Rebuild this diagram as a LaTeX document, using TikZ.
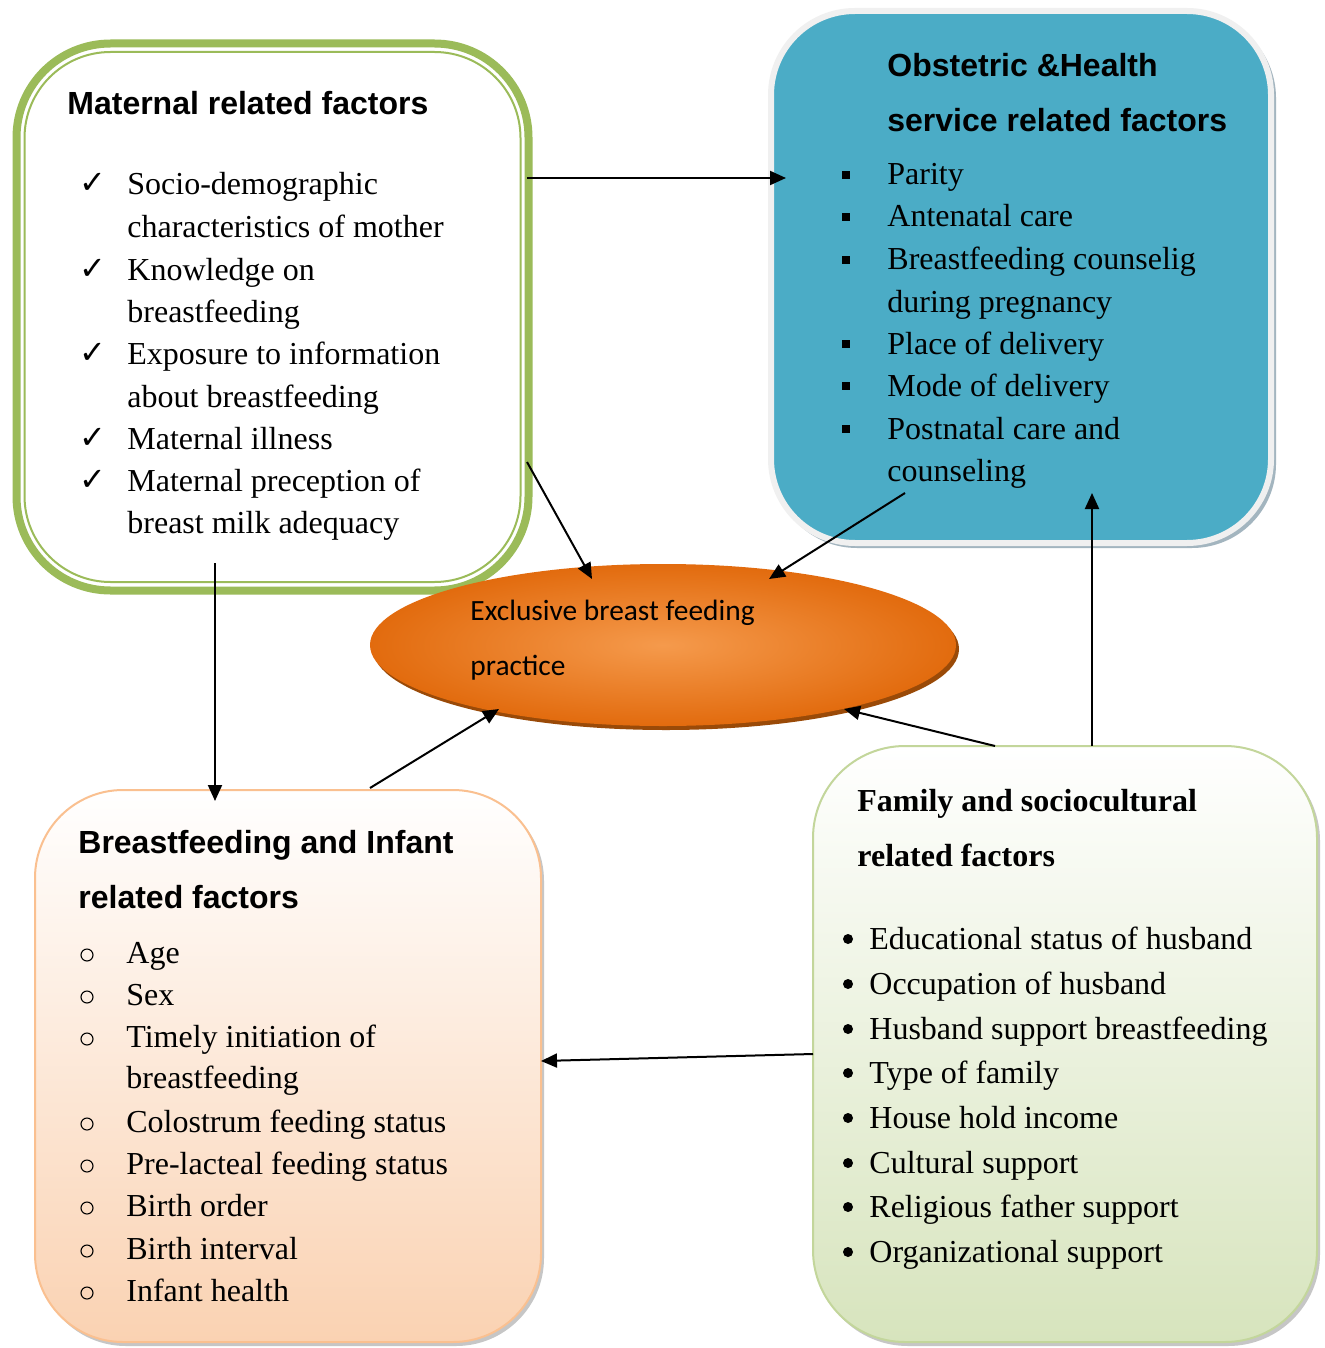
\documentclass[tikz,border=0pt]{standalone}
\usepackage{fontspec}
\setmainfont{Liberation Serif}
\newfontfamily\hsans{Liberation Sans}
\newfontfamily\calib{Carlito}
\newfontfamily\djv{DejaVu Sans}
\usetikzlibrary{shapes.geometric,arrows.meta}
\definecolor{matgreen}{HTML}{9BBB59}
\definecolor{obsblue}{HTML}{4BACC6}
\definecolor{obsrim}{HTML}{F0F0F0}
\definecolor{obsshadow}{HTML}{A3B5BF}
\definecolor{bfrim}{HTML}{FAC090}
\definecolor{bfbot}{HTML}{FAD2B2}
\definecolor{famrim}{HTML}{C3D69B}
\definecolor{fambot}{HTML}{D7E4BD}
\definecolor{ellin}{HTML}{F59A4C}
\definecolor{ellout}{HTML}{E26B0E}
\definecolor{ellshadow}{HTML}{9A4A08}
\begin{document}
\begin{tikzpicture}[x=0.5pt,y=-0.5pt,
  boxbase/.style={rectangle, inner sep=0pt, outer sep=0pt},
  matbox/.style={boxbase, draw=matgreen, line width=4pt, rounded corners=47pt},
  obsbox/.style={boxbase, draw=obsrim, fill=obsblue, line width=3pt, rounded corners=42pt},
  bfbox/.style={boxbase, draw=bfrim, line width=1pt, top color=white, bottom color=bfbot, rounded corners=44pt},
  fambox/.style={boxbase, draw=famrim, line width=1pt, top color=white, bottom color=fambot, rounded corners=46pt},
  ttl/.style={font=\hsans\bfseries\fontsize{16pt}{19pt}\selectfont, anchor=base west, inner sep=0pt},
  ftl/.style={font=\bfseries\fontsize{16pt}{19pt}\selectfont, anchor=base west, inner sep=0pt},
  bod/.style={font=\fontsize{16pt}{19pt}\selectfont, anchor=base west, inner sep=0pt},
  elltxt/.style={font=\calib\fontsize{14.7pt}{17pt}\selectfont, anchor=base west, inner sep=0pt},
  chk/.style={font=\djv\fontsize{16pt}{19pt}\selectfont, anchor=base west, inner sep=0pt},
  sqb/.style={rectangle, fill=black, minimum size=4.2pt, inner sep=0pt},
  cib/.style={circle, draw=black, line width=0.55pt, minimum size=6pt, inner sep=0pt},
  dtb/.style={circle, fill=black, minimum size=5pt, inner sep=0pt},
  arr/.style={line width=1pt, -{Triangle[length=8pt,width=7pt]}}
]
\useasboundingbox (0,0) rectangle (1325,1348);
\fill[white] (0,0) rectangle (1325,1348);

% ---------- boxes ----------
\node[matbox, minimum width=256pt, minimum height=273.5pt] (mat) at (272.5,317) {};
\draw[matgreen, line width=1pt, rounded corners=43pt] (24.5,52) rectangle (520.5,582);

\fill[obsshadow, rounded corners=42pt] (773,14) rectangle (1276,548);
\node[obsbox, minimum width=250pt, minimum height=266pt] (obs) at (1021,277) {};

\fill[gray!45, rounded corners=44pt] (38,793) rectangle (544,1346);
\node[bfbox, minimum width=253pt, minimum height=276pt] (bf) at (288,1066) {};

\fill[gray!45, rounded corners=46pt] (816,749) rectangle (1320,1346);
\node[fambox, minimum width=252pt, minimum height=298pt] (fam) at (1065,1044) {};

% ---------- ellipse ----------
\fill[ellshadow] (666,649) ellipse [x radius=293, y radius=81];
\node[ellipse, minimum width=293pt, minimum height=81pt, inner sep=0pt,
      inner color=ellin, outer color=ellout] (ell) at (663,645) {};

% ---------- arrow ends ----------
\coordinate (a1s) at (527,178);  \coordinate (a1e) at (786,178);
\coordinate (a2s) at (527,462);  \coordinate (a2e) at (592,579);
\coordinate (a3s) at (905,493);  \coordinate (a3e) at (769,579);
\coordinate (a4s) at (215,563);  \coordinate (a4e) at (215,801);
\coordinate (a5s) at (370,788);  \coordinate (a5e) at (499,709);
\coordinate (a6s) at (995,746);  \coordinate (a6e) at (844,709);
\coordinate (a7s) at (1092,746); \coordinate (a7e) at (1092,493);
\coordinate (a8s) at (813,1054); \coordinate (a8e) at (541,1061);
\draw[arr] (a1s) -- (a1e);
\draw[arr] (a2s) -- (a2e);
\draw[arr] (a3s) -- (a3e);
\draw[arr] (a4s) -- (a4e);
\draw[arr] (a5s) -- (a5e);
\draw[arr] (a6s) -- (a6e);
\draw[arr] (a7s) -- (a7e);
\draw[arr] (a8s) -- (a8e);

% ---------- maternal text ----------
\node[ttl] (mt) at (67,114.5) {Maternal related factors};
\node[chk] (mc1) at (79,194) {✓};
\node[chk] (mc2) at (79,279) {✓};
\node[chk] (mc3) at (79,363) {✓};
\node[chk] (mc4) at (79,448) {✓};
\node[chk] (mc5) at (79,490) {✓};
\node[bod] (m1) at (127,195) {Socio-demographic};
\node[bod] (m2) at (127,237) {characteristics of mother};
\node[bod] (m3) at (127,280) {Knowledge on};
\node[bod] (m4) at (127,322) {breastfeeding};
\node[bod] (m5) at (127,364) {Exposure to information};
\node[bod] (m6) at (127,407) {about breastfeeding};
\node[bod] (m7) at (127,449) {Maternal illness};
\node[bod] (m8) at (127,491) {Maternal preception of};
\node[bod] (m9) at (127,533) {breast milk adequacy};

% ---------- obstetric text ----------
\node[ttl] (ot1) at (887,76.5) {Obstetric \&Health};
\node[ttl] (ot2) at (887,131.5) {service related factors};
\node[sqb] (ob1) at (846,175) {};
\node[sqb] (ob2) at (846,217) {};
\node[sqb] (ob3) at (846,260) {};
\node[sqb] (ob4) at (846,344) {};
\node[sqb] (ob5) at (846,386) {};
\node[sqb] (ob6) at (846,429) {};
\node[bod] (o1) at (887,185) {Parity};
\node[bod] (o2) at (887,227) {Antenatal care};
\node[bod] (o3) at (887,270) {Breastfeeding counselig};
\node[bod] (o4) at (887,312) {during pregnancy};
\node[bod] (o5) at (887,354) {Place of delivery};
\node[bod] (o6) at (887,396) {Mode of delivery};
\node[bod] (o7) at (887,439) {Postnatal care and};
\node[bod] (o8) at (887,481) {counseling};

% ---------- ellipse text ----------
\node[elltxt] (e1) at (470,620) {Exclusive breast feeding};
\node[elltxt] (e2) at (470,675) {practice};

% ---------- breastfeeding text ----------
\node[ttl] (bt1) at (78,853.5) {Breastfeeding and Infant};
\node[ttl] (bt2) at (78,908.5) {related factors};
\node[cib] (bc1) at (87,955) {};
\node[cib] (bc2) at (87,997) {};
\node[cib] (bc3) at (87,1039) {};
\node[cib] (bc4) at (87,1124) {};
\node[cib] (bc5) at (87,1166) {};
\node[cib] (bc6) at (87,1208) {};
\node[cib] (bc7) at (87,1251) {};
\node[cib] (bc8) at (87,1293) {};
\node[bod] (b1) at (126,963) {Age};
\node[bod] (b2) at (126,1005) {Sex};
\node[bod] (b3) at (126,1047) {Timely initiation of};
\node[bod] (b4) at (126,1088) {breastfeeding};
\node[bod] (b5) at (126,1132) {Colostrum feeding status};
\node[bod] (b6) at (126,1174) {Pre-lacteal feeding status};
\node[bod] (b7) at (126,1216) {Birth order};
\node[bod] (b8) at (126,1259) {Birth interval};
\node[bod] (b9) at (126,1301) {Infant health};

% ---------- family text ----------
\node[ftl] (ft1) at (857,811.5) {Family and sociocultural};
\node[ftl] (ft2) at (857,866.5) {related factors};
\foreach \n/\y/\t in {1/949/Educational status of husband,
                      2/994/Occupation of husband,
                      3/1039/Husband support breastfeeding,
                      4/1083/Type of family,
                      5/1128/House hold income,
                      6/1173/Cultural support,
                      7/1217/Religious father support,
                      8/1262/Organizational support}{
  \node[dtb] (fb\n) at (848,\y-10) {};
  \node[bod] (f\n) at (869,\y) {\t};
}
\end{tikzpicture}
\end{document}
